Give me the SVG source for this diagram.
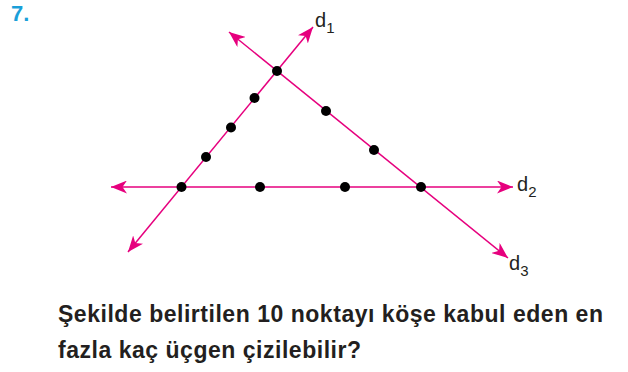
<svg xmlns="http://www.w3.org/2000/svg" width="628" height="372" viewBox="0 0 628 372">
<style>
.ln{stroke:#e6007e;stroke-width:1.5;fill:none;marker-start:url(#ah);marker-end:url(#ah)}
.dot{fill:#000}
.lbl{font-family:"Liberation Sans",Arial,sans-serif;fill:#231f20}
.q{font-family:"Liberation Sans",Arial,sans-serif;font-weight:bold;font-size:23px;fill:#231f20}
</style>
<defs>
<marker id="ah" markerUnits="userSpaceOnUse" markerWidth="17" markerHeight="13" refX="16" refY="6.5" orient="auto-start-reverse" viewBox="0 0 17 13">
<path d="M0,0 L16,6.5 L0,13 L4.5,6.5 Z" fill="#e6007e"/>
</marker>
</defs>
<text x="11" y="21" style="font-family:'Liberation Sans',Arial,sans-serif;font-weight:bold;font-size:22px;fill:#1a9fd9">7.</text>
<g id="connectors">
<line id="d1" class="ln" x1="128" y1="252" x2="313" y2="27"/>
<line id="d2" class="ln" x1="111" y1="187" x2="513" y2="187"/>
<line id="d3" class="ln" x1="229" y1="32" x2="508" y2="258"/>
</g>
<g id="points">
<circle class="dot" cx="277" cy="71" r="5"/>
<circle class="dot" cx="254.5" cy="98" r="5"/>
<circle class="dot" cx="231" cy="127.5" r="5"/>
<circle class="dot" cx="206" cy="157" r="5"/>
<circle class="dot" cx="181.5" cy="187" r="5"/>
<circle class="dot" cx="260" cy="187" r="5"/>
<circle class="dot" cx="345" cy="187" r="5"/>
<circle class="dot" cx="421" cy="187" r="5"/>
<circle class="dot" cx="326" cy="111" r="5"/>
<circle class="dot" cx="374" cy="150" r="5"/>
</g>
<g id="labels">
<text class="lbl" x="315" y="27" font-size="20">d<tspan font-size="15" dy="6">1</tspan></text>
<text class="lbl" x="517" y="191" font-size="20">d<tspan font-size="15" dy="6">2</tspan></text>
<text class="lbl" x="509" y="270" font-size="20">d<tspan font-size="15" dy="6">3</tspan></text>
</g>
<text class="q" x="58" y="322" textLength="545" lengthAdjust="spacing">Şekilde belirtilen 10 noktayı köşe kabul eden en</text>
<text class="q" x="58" y="358" textLength="303" lengthAdjust="spacing">fazla kaç üçgen çizilebilir?</text>
</svg>
